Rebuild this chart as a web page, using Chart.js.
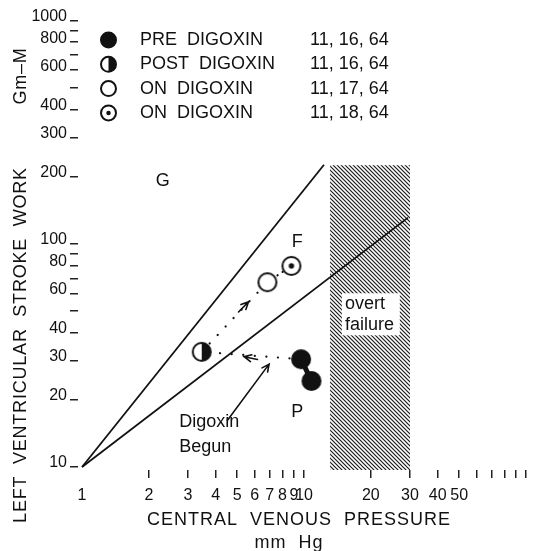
<!DOCTYPE html>
<html>
<head>
<meta charset="utf-8">
<script src="https://cdn.jsdelivr.net/npm/chart.js@4.4.1/dist/chart.umd.min.js"></script>
<style>
  html, body { margin: 0; padding: 0; background: #fff; }
  canvas { display: block; }
</style>
</head>
<body>
<canvas id="lvsw-chart" width="539" height="551"></canvas>
<script>
//
// LVSW vs CVP (log-log) - data
//

// central venous pressure (mm Hg) / stroke work (Gm-M) per visit
const cvpPre = [9.7, 10.8];
const lvswPre = [30.4, 24.3];
const cvpPost = [3.46];
const lvswPost = [32.8];
const cvpOn17 = [6.84];
const lvswOn17 = [67.3];
const cvpOn18 = [8.77];
const lvswOn18 = [79.6];

const seriesNames = ['PRE  DIGOXIN', 'POST  DIGOXIN', 'ON  DIGOXIN', 'ON  DIGOXIN'];
const seriesDates = ['11, 16, 64', '11, 16, 64', '11, 17, 64', '11, 18, 64'];
const seriesMarks = ['filled', 'half', 'open', 'dot'];

// boundary lines between zones
const upperCvp = [1, 12.3];
const upperLvsw = [10, 226];
const lowerCvp = [1, 29.4];
const lowerLvsw = [10, 131];

// overt failure zone
const failCvp = [13.1, 30];
const failLvswTop = 225;

// axis ticks
const xTickValues = [1, 2, 3, 4, 5, 6, 7, 8, 9, 10, 20, 30, 40, 50, 60, 70, 80, 90, 100];
const xTickLabels = ['1', '2', '3', '4', '5', '6', '7', '8', '9', '10', '20', '30', '40', '50', '', '', '', '', ''];
const yTickValues = [10, 20, 30, 40, 50, 60, 70, 80, 90, 100, 200, 300, 400, 500, 600, 700, 800, 900, 1000];
const yTickLabels = ['10', '20', '30', '40', '', '60', '', '80', '', '100', '200', '300', '400', '', '600', '', '800', '', '1000'];

// notes written on the plot [cvp, lvsw, text, align]
const notes = [
  [2.31, 192, 'G', 'center'],
  [9.33, 102, 'F', 'center'],
  [9.33, 17.7, 'P', 'center'],
  [2.74, 15.95, 'Digoxin', 'left'],
  [2.74, 12.3, 'Begun', 'left']
];
// arrows [cvpFrom, lvswFrom, cvpTo, lvswTo]
const arrows = [
  [6.17, 30.3, 5.37, 31.2],
  [5.07, 49.5, 5.62, 54.9],
  [4.52, 16.2, 6.96, 28.9]
];

const FONT = '"Liberation Sans", Arial, Helvetica, sans-serif';
const INK = '#111';

//
// markers
//
function drawMarker(ctx, kind, x, y, r) {
  ctx.save();
  ctx.lineWidth = 2;
  ctx.strokeStyle = INK;
  ctx.fillStyle = '#fff';
  ctx.beginPath();
  if (kind === 'filled') {
    ctx.arc(x, y, r + 1, 0, 2 * Math.PI);
    ctx.fillStyle = INK;
    ctx.fill();
  } else {
    ctx.arc(x, y, r, 0, 2 * Math.PI);
    ctx.fill();
    ctx.stroke();
  }
  if (kind === 'half') {
    ctx.beginPath();
    ctx.arc(x, y, r, -Math.PI / 2, Math.PI / 2);
    ctx.closePath();
    ctx.fillStyle = INK;
    ctx.fill();
  }
  if (kind === 'dot') {
    ctx.beginPath();
    ctx.arc(x, y, r * 0.3, 0, 2 * Math.PI);
    ctx.fillStyle = INK;
    ctx.fill();
  }
  ctx.restore();
}

function makeMarker(kind, r) {
  const c = document.createElement('canvas');
  const s = Math.ceil(r * 2 + 6);
  c.width = s;
  c.height = s;
  drawMarker(c.getContext('2d'), kind, s / 2, s / 2, r);
  return c;
}

function hatchPattern(ctx) {
  const c = document.createElement('canvas');
  c.width = 4;
  c.height = 4;
  const g = c.getContext('2d');
  g.strokeStyle = '#1a1a1a';
  g.lineWidth = 1.2;
  g.beginPath();
  g.moveTo(-1, -1); g.lineTo(5, 5);
  g.moveTo(-1, 3); g.lineTo(1, 5);
  g.moveTo(3, -1); g.lineTo(5, 1);
  g.stroke();
  return ctx.createPattern(c, 'repeat');
}

function drawArrow(ctx, x1, y1, x2, y2) {
  const a = Math.atan2(y2 - y1, x2 - x1);
  const len = 8;
  ctx.beginPath();
  ctx.moveTo(x1, y1);
  ctx.lineTo(x2, y2);
  ctx.moveTo(x2 - len * Math.cos(a - 0.45), y2 - len * Math.sin(a - 0.45));
  ctx.lineTo(x2, y2);
  ctx.lineTo(x2 - len * Math.cos(a + 0.45), y2 - len * Math.sin(a + 0.45));
  ctx.stroke();
}

const pts = (xs, ys) => xs.map((v, i) => ({ x: v, y: ys[i] }));

//
// extras: failure zone, notes, arrows, legend, axis titles
//
const extras = {
  id: 'extras',
  beforeDatasetsDraw(chart) {
    const { ctx, scales: { x, y }, chartArea } = chart;
    const l = x.getPixelForValue(failCvp[0]);
    const r = x.getPixelForValue(failCvp[1]);
    const t = y.getPixelForValue(failLvswTop);
    ctx.save();
    ctx.fillStyle = hatchPattern(ctx);
    ctx.fillRect(l, t, r - l, chartArea.bottom - t);
    // label box
    const bl = x.getPixelForValue(14.8), br = x.getPixelForValue(27.0);
    const bt = y.getPixelForValue(60), bb = y.getPixelForValue(38.9);
    ctx.fillStyle = '#fff';
    ctx.fillRect(bl, bt, br - bl, bb - bt);
    ctx.fillStyle = INK;
    ctx.font = '18px ' + FONT;
    ctx.textAlign = 'left';
    ctx.textBaseline = 'middle';
    ctx.fillText('overt', x.getPixelForValue(15.3), y.getPixelForValue(53.9));
    ctx.fillText('failure', x.getPixelForValue(15.3), y.getPixelForValue(43.2));
    ctx.restore();
  },
  afterDatasetsDraw(chart) {
    const { ctx, scales: { x, y } } = chart;
    ctx.save();
    ctx.fillStyle = INK;
    ctx.font = '18px ' + FONT;
    ctx.textBaseline = 'middle';
    notes.forEach(([cx, cy, txt, al]) => {
      ctx.textAlign = al;
      ctx.fillText(txt, x.getPixelForValue(cx), y.getPixelForValue(cy));
    });
    ctx.strokeStyle = INK;
    ctx.lineWidth = 1.6;
    ctx.lineCap = 'round';
    arrows.forEach(([a, b, c, d]) => {
      drawArrow(ctx, x.getPixelForValue(a), y.getPixelForValue(b), x.getPixelForValue(c), y.getPixelForValue(d));
    });
    ctx.restore();
  },
  afterDraw(chart) {
    const { ctx } = chart;
    ctx.save();
    ctx.fillStyle = INK;
    ctx.font = '18px ' + FONT;
    ctx.textBaseline = 'middle';
    // legend
    seriesNames.forEach((name, i) => {
      const yy = 40 + i * 24.3;
      drawMarker(ctx, seriesMarks[i], 108.5, yy, 7.5);
      ctx.textAlign = 'left';
      ctx.fillText(name, 140, yy);
      ctx.fillText(seriesDates[i], 310, yy);
    });
    // axis titles
    ctx.textAlign = 'center';
    ctx.letterSpacing = '1px';
    ctx.fillText('CENTRAL  VENOUS  PRESSURE', 299, 520);
    ctx.fillText('mm  Hg', 289, 543);
    ctx.translate(21, 0);
    ctx.rotate(-Math.PI / 2);
    ctx.letterSpacing = '0.8px';
    ctx.fillText('LEFT  VENTRICULAR  STROKE  WORK', -345, 0);
    ctx.fillText('Gm\u2013M', -76, 0);
    ctx.restore();
  }
};

//
// chart
//
const data = {
  datasets: [
    { data: pts(cvpPre, lvswPre), pointStyle: makeMarker('filled', 9), order: 0 },
    { data: pts(cvpPost, lvswPost), pointStyle: makeMarker('half', 9), order: 0 },
    { data: pts(cvpOn17, lvswOn17), pointStyle: makeMarker('open', 9), order: 0 },
    { data: pts(cvpOn18, lvswOn18), pointStyle: makeMarker('dot', 9), order: 0 },
    { data: pts(upperCvp, upperLvsw), showLine: true, borderWidth: 1.8, pointRadius: 0, order: 2 },
    { data: pts(lowerCvp, lowerLvsw), showLine: true, borderWidth: 1.8, pointRadius: 0, order: 2 },
    { data: pts(cvpPre, lvswPre), showLine: true, borderWidth: 5, pointRadius: 0, order: 1 },
    { data: [pts(cvpPre, lvswPre)[0], pts(cvpPost, lvswPost)[0]], showLine: true, borderWidth: 2.2,
      borderDash: [0.1, 11.5], borderCapStyle: 'round', pointRadius: 0, order: 1 },
    { data: [pts(cvpPost, lvswPost)[0], pts(cvpOn17, lvswOn17)[0]], showLine: true, borderWidth: 2.2,
      borderDash: [0.1, 11.5], borderCapStyle: 'round', pointRadius: 0, order: 1 },
    { data: [pts(cvpOn17, lvswOn17)[0], pts(cvpOn18, lvswOn18)[0]], showLine: true, borderWidth: 2.2,
      borderDash: [0.1, 6], borderCapStyle: 'round', pointRadius: 0, order: 1 }
  ]
};
data.datasets.forEach(d => {
  d.borderColor = INK;
  d.backgroundColor = INK;
});

const config = {
  type: 'scatter',
  data: data,
  plugins: [extras],
  options: {
    responsive: false,
    devicePixelRatio: 1,
    animation: false,
    events: [],
    layout: { padding: { left: 0, right: 4, top: 12, bottom: 0 } },
    plugins: {
      legend: { display: false },
      tooltip: { enabled: false }
    },
    scales: {
      x: {
        type: 'logarithmic',
        min: 0.959,
        max: 108.6,
        afterBuildTicks: axis => { axis.ticks = xTickValues.map(v => ({ value: v })); },
        afterFit: axis => { axis.height = 81; },
        border: { display: false },
        grid: {
          drawOnChartArea: false,
          drawTicks: true,
          tickLength: 8,
          lineWidth: 1.5,
          tickColor: c => (c.tick && c.tick.value === 1 ? 'rgba(0,0,0,0)' : '#222')
        },
        ticks: {
          autoSkip: false,
          maxRotation: 0,
          padding: 8,
          color: INK,
          font: { family: FONT, size: 16 },
          callback: v => { const i = xTickValues.indexOf(v); return i < 0 ? '' : xTickLabels[i]; }
        }
      },
      y: {
        type: 'logarithmic',
        min: 9.696,
        max: 1086,
        afterBuildTicks: axis => { axis.ticks = yTickValues.map(v => ({ value: v })); },
        afterFit: axis => { axis.width = 78; },
        border: { display: false },
        grid: {
          drawOnChartArea: false,
          drawTicks: true,
          tickLength: 8,
          lineWidth: 1.5,
          tickColor: '#222'
        },
        ticks: {
          autoSkip: false,
          padding: 3,
          labelOffset: -4,
          color: INK,
          font: { family: FONT, size: 16 },
          callback: v => { const i = yTickValues.indexOf(v); return i < 0 ? '' : yTickLabels[i]; }
        }
      }
    }
  }
};

const lvswChart = new Chart(document.getElementById('lvsw-chart'), config);
</script>
</body>
</html>
